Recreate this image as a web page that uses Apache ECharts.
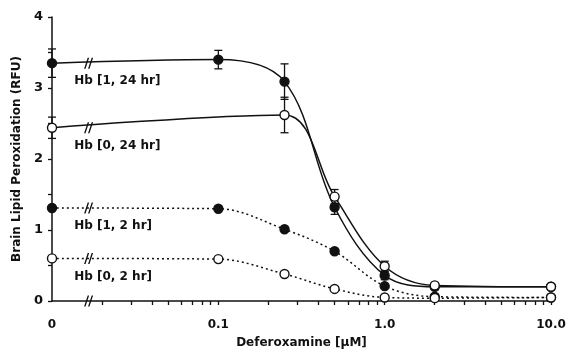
<!DOCTYPE html>
<html>
<head>
<meta charset="utf-8">
<script src="https://cdn.jsdelivr.net/npm/echarts@6/dist/echarts.min.js"></script>
<style>
  html, body { margin: 0; padding: 0; background: #fff; }
  #chart { width: 569px; height: 354px; }
</style>
</head>
<body>
<div id="chart"></div>
<script>
// Deferoxamine concentrations (µM); 0 is shown left of the axis break
const concentrations = [0, 0.1, 0.25, 0.5, 1.0, 2.0, 10.0];

// Brain lipid peroxidation (RFU) for each Hb condition
const hb1h24 = [3.35, 3.40, 3.09, 1.32, 0.36, 0.20, 0.20];
const hb1h24Err = [0.20, 0.13, 0.25, 0.10, 0.06, 0.04, 0];
const hb0h24 = [2.44, null, 2.62, 1.47, 0.49, 0.22, 0.20];
const hb0h24Err = [0.15, 0, 0.25, 0.10, 0.07, 0.04, 0];
const hb1h2 = [1.31, 1.30, 1.01, 0.70, 0.21, 0.06, 0.05];
const hb0h2 = [0.60, 0.59, 0.38, 0.17, 0.05, 0.04, 0.05];

const seriesNames = ['Hb [1, 24 hr]', 'Hb [0, 24 hr]', 'Hb [1, 2 hr]', 'Hb [0, 2 hr]'];

// x tick labels at decade positions (log10 scale), zero drawn at -2
const xTickLabels = { '-2': '0', '-1': '0.1', '0': '1.0', '1': '10.0' };
const ZERO_POS = -2;
const BREAK_POS = -1.78;
const xTickConc = [0.02, 0.03, 0.04, 0.05, 0.06, 0.07, 0.08, 0.09, 0.1,
  0.2, 0.3, 0.4, 0.5, 0.6, 0.7, 0.8, 0.9, 1,
  2, 3, 4, 5, 6, 7, 8, 9, 10];

const INK = '#111';
const FONT = 'DejaVu Sans, Liberation Sans, sans-serif';

function xPos(c) { return c === 0 ? ZERO_POS : Math.log10(c); }

function lineData(values, name) {
  const out = [];
  values.forEach((v, i) => {
    if (v === null) return;
    const item = { value: [xPos(concentrations[i]), v] };
    if (i === 0) {
      item.label = {
        show: true, formatter: name, position: 'right', distance: 4,
        offset: [13, 18], color: INK, fontFamily: FONT, fontWeight: 'bold', fontSize: 12
      };
    }
    out.push(item);
  });
  return out;
}

function errData(values, errs) {
  const out = [];
  values.forEach((v, i) => {
    if (v === null || !errs[i]) return;
    out.push([xPos(concentrations[i]), v, errs[i]]);
  });
  return out;
}

const breakSymbol = 'path://M0,12 L4,0 L5.6,0 L1.6,12 Z M4.4,12 L8.4,0 L10,0 L6,12 Z';

function breakMark(y) {
  return {
    symbol: breakSymbol, symbolSize: [9, 11], silent: true,
    itemStyle: { color: INK }, label: { show: false },
    data: [{ coord: [BREAK_POS, y] }]
  };
}

function makeLine(name, values, filled, dotted, extraBreaks) {
  const mp = breakMark(values[0]);
  if (extraBreaks) extraBreaks.forEach(y => mp.data.push({ coord: [BREAK_POS, y] }));
  return {
    name, type: 'line', smooth: 0.35, connectNulls: true,
    data: lineData(values, name),
    symbol: 'circle', symbolSize: 9,
    itemStyle: { color: filled ? INK : '#fff', borderColor: INK, borderWidth: 1.4 },
    lineStyle: { color: INK, width: 1.5, type: dotted ? [2, 3] : 'solid' },
    markPoint: mp,
    z: 3
  };
}

function errSeries(values, errs) {
  return {
    type: 'custom', z: 1, silent: true,
    data: errData(values, errs),
    renderItem(params, api) {
      const x = api.value(0), y = api.value(1), e = api.value(2);
      const top = api.coord([x, y + e]);
      const bot = api.coord([x, y - e]);
      const hw = 4;
      const st = { stroke: INK, lineWidth: 1.3 };
      return {
        type: 'group',
        children: [
          { type: 'line', shape: { x1: top[0], y1: top[1], x2: bot[0], y2: bot[1] }, style: st },
          { type: 'line', shape: { x1: top[0] - hw, y1: top[1], x2: top[0] + hw, y2: top[1] }, style: st },
          { type: 'line', shape: { x1: bot[0] - hw, y1: bot[1], x2: bot[0] + hw, y2: bot[1] }, style: st }
        ]
      };
    }
  };
}

const chart = echarts.init(document.getElementById('chart'), null, { renderer: 'canvas' });

chart.setOption({
  backgroundColor: '#fff',
  animation: false,
  grid: { left: 52, right: 18, top: 17, bottom: 52 },
  xAxis: {
    type: 'value', min: -2, max: 1, interval: 1, position: 'bottom',
    axisLine: { onZero: false, lineStyle: { color: INK, width: 1.5 } },
    axisTick: { length: 4, customValues: xTickConc.map(xPos), lineStyle: { color: INK, width: 1.3 } },
    splitLine: { show: false },
    axisLabel: {
      formatter: v => xTickLabels[String(Math.round(v))] || '',
      color: INK, fontFamily: FONT, fontWeight: 'bold', fontSize: 12, margin: 18
    },
    name: 'Deferoxamine [µM]', nameLocation: 'middle', nameGap: 36,
    nameTextStyle: { color: INK, fontFamily: FONT, fontWeight: 'bold', fontSize: 12 }
  },
  yAxis: {
    type: 'value', min: 0, max: 4, interval: 0.5,
    axisLine: { show: true, onZero: false, lineStyle: { color: INK, width: 1.5 } },
    axisTick: { show: true, length: 4, lineStyle: { color: INK, width: 1.3 } },
    splitLine: { show: false },
    axisLabel: {
      formatter: v => (Math.abs(v - Math.round(v)) < 1e-6 ? String(Math.round(v)) : ''),
      color: INK, fontFamily: FONT, fontWeight: 'bold', fontSize: 13, margin: 9
    },
    name: 'Brain Lipid Peroxidation (RFU)', nameLocation: 'middle', nameGap: 22,
    nameTextStyle: { color: INK, fontFamily: FONT, fontWeight: 'bold', fontSize: 12 }
  },
  series: [
    errSeries(hb1h24, hb1h24Err),
    errSeries(hb0h24, hb0h24Err),
    makeLine(seriesNames[2], hb1h2, true, true),
    makeLine(seriesNames[3], hb0h2, false, true, [0]),
    makeLine(seriesNames[0], hb1h24, true, false),
    makeLine(seriesNames[1], hb0h24, false, false)
  ]
});
</script>
</body>
</html>
